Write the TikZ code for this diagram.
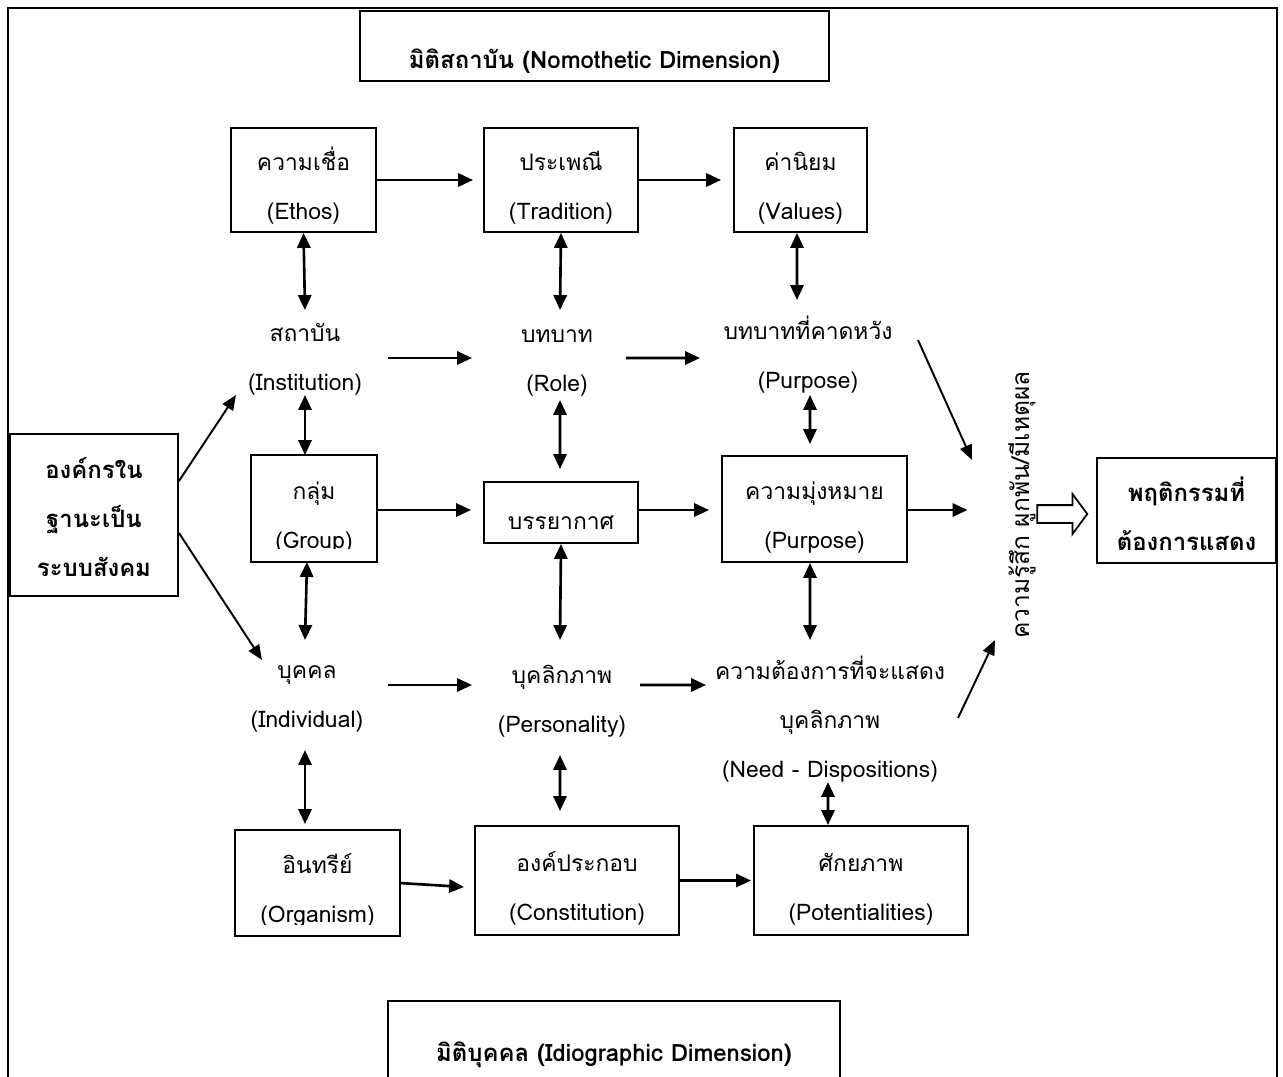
\documentclass[tikz,border=0pt]{standalone}
\usepackage{fontspec}
\setmainfont[Script=Thai]{Loma}
\usetikzlibrary{arrows.meta,calc,shapes.arrows}
\tikzset{
  cell/.style={font=\fontsize{13}{27.8}\selectfont, align=center, inner sep=2pt},
  boxed/.style={cell, draw, line width=1.1pt, execute at begin node={\rule[-4.8pt]{0pt}{#1}}},
  boxed/.default=54.8pt,
  heavy/.style={boxed=#1, font=\bfseries\fontsize{13.6}{27.8}\selectfont},
  heavy/.default=54.8pt,
  arr/.style={-{Triangle[length=8.5pt,width=7.5pt]}, line width=1.5pt},
  both/.style={{Triangle[length=8.5pt,width=7.5pt]}-{Triangle[length=8.5pt,width=7.5pt]}, line width=1.5pt},
  slant/.style={-{Triangle[length=8.5pt,width=7pt]}, line width=1.1pt},
  hollow/.style={draw, single arrow, minimum height=1cm, single arrow head extend=0.22cm,
    single arrow tip angle=107, inner xsep=0pt, inner ysep=0.16cm, line width=1pt}
}

\begin{document}
\begin{tikzpicture}
  \useasboundingbox (0,0) rectangle (25.66,-21.54);
  \clip (0,0) rectangle (25.66,-21.54);
  \draw[line width=1.1pt] (0.16,-22) |- (25.54,-0.16) -- (25.54,-22);

  \node[heavy, minimum width=9.38cm, minimum height=1.4cm, text height=1.16cm, text depth=0.24cm, inner sep=0pt, anchor=north] (nomo) at (11.89,-0.2) {มิติสถาบัน (Nomothetic Dimension)};
  \node[heavy, minimum width=9.04cm, minimum height=2cm, text height=1.22cm, text depth=0.78cm, inner sep=0pt, anchor=north] (idio) at (12.28,-20.0) {มิติบุคคล (Idiographic Dimension)};

  \node[boxed, minimum width=2.9cm, minimum height=2.08cm] (ethos) at (6.07,-3.6) {ความเชื่อ\\(Ethos)};
  \node[boxed, minimum width=3.08cm, minimum height=2.08cm] (tradition) at (11.22,-3.6) {ประเพณี\\(Tradition)};
  \node[boxed, minimum width=2.66cm, minimum height=2.08cm] (values) at (16.01,-3.6) {ค่านิยม\\(Values)};

  \node[cell] (institution) at (6.1,-7.18) {สถาบัน\\(Institution)};
  \node[cell] (role) at (11.14,-7.26) {บทบาท\\(Role)};
  \node[cell] (expect) at (16.16,-7.1) {บทบาทที่คาดหวัง\\(Purpose)};

  \begin{scope}
    \clip (5.04,-9.12) rectangle (7.52,-10.96);
    \node[boxed, draw=none, minimum width=2.48cm, minimum height=2.1cm] (group) at (6.28,-10.17) {กลุ่ม\\(Group)};
  \end{scope}
  \draw[line width=1.1pt] (group.south west) rectangle (group.north east);
  \node[boxed=29.3pt, minimum width=3.08cm, minimum height=1.22cm] (climate) at (11.22,-10.25) {บรรยากาศ};
  \node[boxed, minimum width=3.7cm, minimum height=2.12cm] (purpose) at (16.29,-10.18) {ความมุ่งหมาย\\(Purpose)};

  \node[cell] (individual) at (6.14,-13.98) {บุคคล\\(Individual)};
  \node[cell] (personality) at (11.24,-14.02) {บุคลิกภาพ\\(Personality)};
  \node[cell] (needs) at (16.6,-14.38) {ความต้องการที่จะแสดง\\บุคลิกภาพ\\(Need - Dispositions)};

  \begin{scope}
    \clip (4.72,-16.62) rectangle (7.98,-18.48);
    \node[boxed, draw=none, minimum width=3.26cm, minimum height=2.08cm] (organism) at (6.35,-17.66) {อินทรีย์\\(Organism)};
  \end{scope}
  \draw[line width=1.1pt] (organism.south west) rectangle (organism.north east);
  \node[boxed, minimum width=4.08cm, minimum height=2.18cm] (constitution) at (11.54,-17.61) {องค์ประกอบ\\(Constitution)};
  \node[boxed, minimum width=4.28cm, minimum height=2.18cm] (potential) at (17.22,-17.61) {ศักยภาพ\\(Potentialities)};

  \node[heavy=79.8pt, minimum width=3.36cm, minimum height=3.24cm] (org) at (1.88,-10.3) {องค์กรใน\\ฐานะเป็น\\ระบบสังคม};
  \node[heavy, minimum width=3.58cm, minimum height=2.1cm] (behav) at (23.73,-10.21) {พฤติกรรมที่\\ต้องการแสดง};
  \node[cell, font=\fontsize{14}{20}\selectfont, rotate=90] (feel) at (20.44,-10.1) {ความรู้สึก ผูกพัน/มีเหตุผล};
  \node[hollow] (push) at (21.18,-10.28) {};

  \draw[arr, shorten >=0.2cm] (ethos.east) -- (tradition.west);
  \draw[arr, shorten >=0.24cm] (tradition.east) -- (values.west);
  \draw[arr] ($(institution.center)+(1.66,0.02)$) -- ($(role.center)+(-1.7,0.1)$);
  \draw[arr] ($(role.center)+(1.38,0.1)$) -- ($(expect.center)+(-2.16,-0.06)$);
  \draw[arr, shorten >=0.24cm] (group.east |- 0,-10.2) -- (climate.west |- 0,-10.2);
  \draw[arr, shorten >=0.24cm] (climate.east |- 0,-10.2) -- (purpose.west |- 0,-10.2);
  \draw[arr, shorten >=0.74cm] (purpose.east |- 0,-10.2) -- (feel.north |- 0,-10.2);
  \draw[arr] ($(individual.center)+(1.62,0.28)$) -- ($(personality.center)+(-1.8,0.32)$);
  \draw[arr] ($(personality.center)+(1.56,0.32)$) -- ($(needs.center)+(-2.48,0.68)$);
  \draw[arr] (organism.east) -- ($(constitution.west)+(-0.2,-0.13)$);
  \draw[arr, shorten >=0.04cm] (constitution.east) -- (potential.west);

  \draw[slant] ($(org.north east)+(0,-0.96)$) -- ($(institution.center)+(-1.38,-0.72)$);
  \draw[slant] ($(org.south east)+(0,1.28)$) -- ($(individual.center)+(-0.9,0.78)$);
  \draw[slant] ($(expect.center)+(2.2,0.3)$) -- ($(feel.center)+(-1.0,0.9)$);
  \draw[slant] ($(needs.center)+(2.56,0.02)$) -- ($(feel.center)+(-0.54,-2.7)$);

  \draw[both] (ethos.south) -- ($(institution.center)+(0,0.98)$);
  \draw[both] (tradition.south) -- ($(role.center)+(0.06,1.06)$);
  \draw[both] ([xshift=-0.07cm]values.south) -- ($(expect.center)+(-0.22,1.1)$);
  \draw[both] ($(institution.center)+(0,-0.72)$) -- (institution.center |- group.north);
  \draw[both, shorten >=0.24cm] ($(role.center)+(0.06,-0.74)$) -- (11.2,0 |- climate.north);
  \draw[both, shorten >=0.22cm] ($(expect.center)+(0.04,-0.8)$) -- (16.2,0 |- purpose.north);
  \draw[both] (individual.center |- group.south) -- ($(individual.center)+(-0.04,1.18)$);
  \draw[both] (climate.south) -- ($(personality.center)+(-0.04,1.22)$);
  \draw[both] (16.2,0 |- purpose.south) -- ($(needs.center)+(-0.4,1.58)$);
  \draw[both, shorten >=0.12cm] ($(individual.center)+(-0.04,-1.02)$) -- (6.1,0 |- organism.north);
  \draw[both, shorten >=0.28cm] ($(personality.center)+(-0.04,-1.08)$) -- (11.2,0 |- constitution.north);
  \draw[both] ($(needs.center)+(-0.04,-1.26)$) -- (16.56,0 |- potential.north);
\end{tikzpicture}
\end{document}
